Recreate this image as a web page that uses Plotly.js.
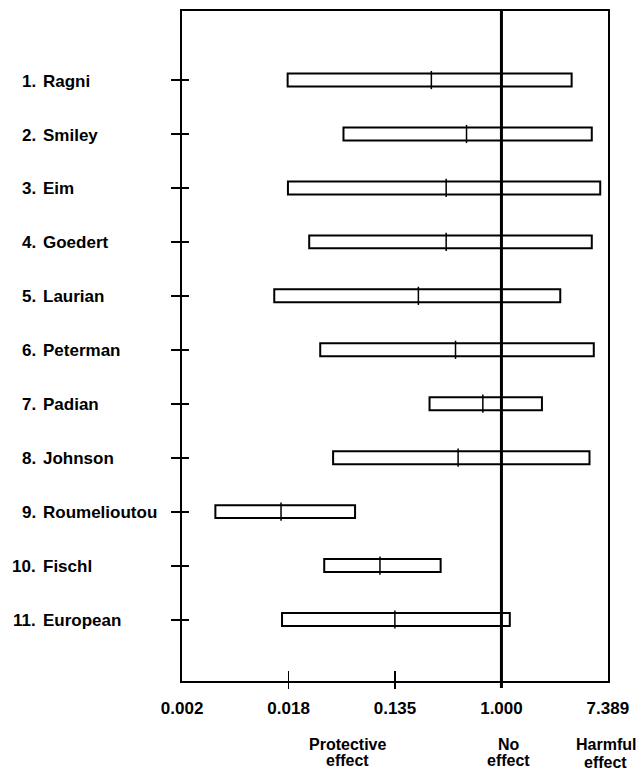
<!DOCTYPE html>
<html>
<head>
<meta charset="utf-8">
<script src="https://cdn.plot.ly/plotly-3.0.1.min.js"></script>
<style>html,body{margin:0;padding:0;background:#fff;}#chart{width:642px;height:770px;}</style>
</head>
<body>
<div id="chart"></div>
<script>
// ---- data (odds ratios) ----
var studies = ['Ragni','Smiley','Eim','Goedert','Laurian','Peterman','Padian','Johnson','Roumelioutou','Fischl','European'];
var estimate = [0.268, 0.519, 0.354, 0.354, 0.210, 0.422, 0.705, 0.443, 0.0159, 0.102, 0.135];
var lower    = [0.0180, 0.0514, 0.0181, 0.0270, 0.0140, 0.0332, 0.259, 0.0423, 0.00463, 0.0358, 0.0162];
var upper    = [3.74, 5.46, 6.40, 5.46, 3.02, 5.67, 2.14, 5.23, 0.0639, 0.319, 1.17];
var tickValues = [0.0024788, 0.0183156, 0.1353353, 1, 7.3890561];
var tickLabels = ['0.002', '0.018', '0.135', '1.000', '7.389'];
var innerTicks = [0.0183156, 0.1353353];
var effectLabels = [['Protective','effect'], ['No','effect'], ['Harmful','effect']];

var rows = studies.map(function(s, i){ return i + 1; });
var widths = upper.map(function(u, i){ return u - lower[i]; });

var FONT = 'Liberation Sans, Arial, Helvetica, sans-serif';
var xr = [Math.log10(tickValues[0]) - 0.001, Math.log10(tickValues[4]) + 0.001];
var yr = [12.14, -0.28];

var traces = [
  {
    type: 'bar', orientation: 'h',
    y: rows, x: widths, base: lower,
    width: 0.24,
    marker: {color: '#ffffff', line: {color: '#000000', width: 2}},
    hoverinfo: 'skip', showlegend: false
  },
  {
    type: 'scatter', mode: 'markers',
    y: rows, x: estimate,
    marker: {symbol: 'line-ns', size: 13, color: '#000', line: {color: '#000000', width: 1.5}},
    hoverinfo: 'skip', showlegend: false
  },
  {type: 'scatter', x: [], y: [], xaxis: 'x2', yaxis: 'y', showlegend: false, hoverinfo: 'skip'},
  {type: 'scatter', x: [], y: [], xaxis: 'x3', yaxis: 'y', showlegend: false, hoverinfo: 'skip'},
  {type: 'scatter', x: [], y: [], xaxis: 'x', yaxis: 'y2', showlegend: false, hoverinfo: 'skip'}
];

var annotations = [];
studies.forEach(function(name, i){
  annotations.push({
    xref: 'paper', yref: 'y', x: (38 - 182) / 426, y: rows[i],
    xanchor: 'right', yanchor: 'middle', showarrow: false, yshift: -1,
    text: (i + 1) + '.',
    font: {family: FONT, size: 17, weight: 'bold', color: '#000'}
  });
  annotations.push({
    xref: 'paper', yref: 'y', x: (41 - 182) / 426, y: rows[i],
    xanchor: 'left', yanchor: 'middle', showarrow: false, yshift: -1,
    text: name,
    font: {family: FONT, size: 17, weight: 'bold', color: '#000'}
  });
});
var effX = [(347.5 - 182) / 426, (508.5 - 182) / 426, (605.7 - 182) / 426];
var effShift = [0, 0, 2];
effectLabels.forEach(function(lines, k){
  lines.forEach(function(t, j){
    annotations.push({
      xref: 'paper', yref: 'paper', x: effX[k], y: 0,
      xanchor: 'center', yanchor: 'middle', showarrow: false,
      yshift: -(63 + j * 16 + (j === 1 ? effShift[k] : 0)),
      text: t,
      font: {family: FONT, size: 16, weight: 'bold', color: '#000'}
    });
  });
});

var layout = {
  width: 642, height: 770,
  margin: {l: 182, r: 34, t: 11, b: 89},
  paper_bgcolor: '#fff', plot_bgcolor: '#fff',
  showlegend: false,
  barmode: 'overlay',
  xaxis: {
    type: 'log', range: xr,
    tickvals: tickValues, ticktext: tickLabels,
    ticks: '', ticklabelstandoff: 11,
    tickfont: {family: FONT, size: 17, weight: 'bold', color: '#000'},
    showline: true, linecolor: '#000', linewidth: 2, mirror: true,
    showgrid: false, zeroline: false, fixedrange: true
  },
  xaxis2: {
    type: 'log', range: xr, overlaying: 'x', anchor: 'y', side: 'bottom',
    tickvals: innerTicks, ticks: 'inside', ticklen: 10, tickwidth: 1.5, tickcolor: '#000',
    showticklabels: false, showline: false, showgrid: false, zeroline: false
  },
  xaxis3: {
    type: 'log', range: xr, overlaying: 'x', anchor: 'y', side: 'bottom',
    tickvals: innerTicks, ticks: 'outside', ticklen: 7, tickwidth: 1.5, tickcolor: '#000',
    showticklabels: false, showline: false, showgrid: false, zeroline: false
  },
  yaxis: {
    range: yr, tickvals: rows, showticklabels: false,
    ticks: 'outside', ticklen: 9, tickwidth: 2, tickcolor: '#000',
    showline: true, linecolor: '#000', linewidth: 2, mirror: true,
    showgrid: false, zeroline: false, fixedrange: true
  },
  yaxis2: {
    range: yr, overlaying: 'y', anchor: 'x', side: 'left',
    tickvals: rows, showticklabels: false,
    ticks: 'inside', ticklen: 7, tickwidth: 2, tickcolor: '#000',
    showline: false, showgrid: false, zeroline: false
  },
  shapes: [{
    type: 'line', xref: 'x', yref: 'paper', x0: 1, x1: 1, y0: -0.0105, y1: 1,
    line: {color: '#000', width: 3}, layer: 'above'
  }],
  annotations: annotations
};

Plotly.newPlot('chart', traces, layout, {staticPlot: true, displayModeBar: false});
</script>
</body>
</html>
